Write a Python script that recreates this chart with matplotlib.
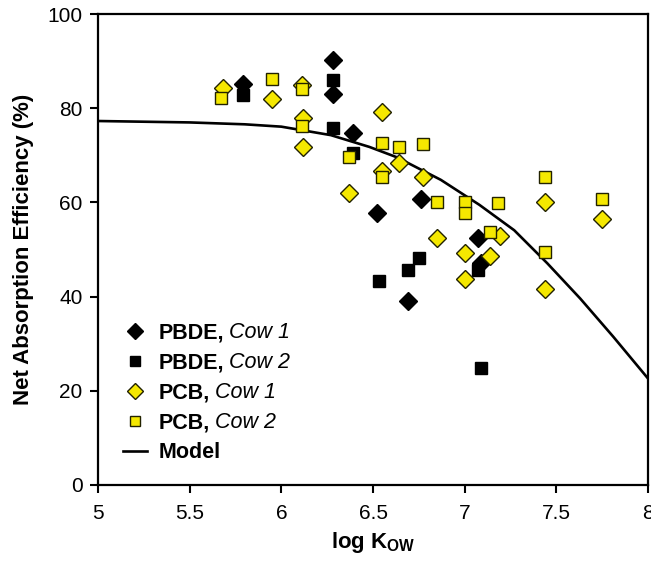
import matplotlib
matplotlib.use('Agg')
import matplotlib.pyplot as plt

plt.rcParams['font.family'] = ['Liberation Sans', 'DejaVu Sans']
plt.rcParams['mathtext.fontset'] = 'custom'
plt.rcParams['mathtext.rm'] = 'Liberation Sans'
plt.rcParams['mathtext.it'] = 'Liberation Sans:italic'
plt.rcParams['mathtext.bf'] = 'Liberation Sans:bold'

# PBDE, cow 1 (black diamonds)
pbde1_x = [5.79, 6.28, 6.28, 6.39, 6.52, 6.76, 6.69, 7.07, 7.09]
pbde1_y = [85.1, 90.2, 83.0, 74.8, 57.8, 60.8, 39.0, 52.5, 47.1]
# PBDE, cow 2 (black squares)
pbde2_x = [5.79, 6.28, 6.28, 6.39, 6.53, 6.69, 6.75, 7.07, 7.09]
pbde2_y = [82.8, 86.0, 75.8, 70.5, 43.4, 45.6, 48.2, 45.6, 24.8]
# PCB, cow 1 (yellow diamonds)
pcb1_x = [5.68, 5.95, 6.11, 6.12, 6.12, 6.37, 6.55, 6.55, 6.64, 6.77,
          6.85, 7.0, 7.0, 7.19, 7.14, 7.44, 7.44, 7.75]
pcb1_y = [84.3, 82.0, 85.0, 78.0, 71.8, 62.0, 79.2, 66.7, 68.4, 65.4,
          52.4, 49.3, 43.7, 52.9, 48.6, 60.1, 41.6, 56.5]
# PCB, cow 2 (yellow squares)
pcb2_x = [5.67, 5.95, 6.11, 6.11, 6.37, 6.55, 6.64, 6.77, 6.55, 6.85,
          7.0, 7.0, 7.18, 7.14, 7.44, 7.44, 7.75]
pcb2_y = [82.1, 86.2, 84.0, 76.2, 69.6, 72.6, 71.8, 72.4, 65.4, 60.1,
          60.1, 57.7, 59.9, 53.7, 65.4, 49.5, 60.7]
# model curve
model_x = [5.0, 5.5, 5.8, 6.0, 6.27, 6.48, 6.63, 6.87, 7.08, 7.27, 7.45, 7.63, 7.81, 8.0]
model_y = [77.3, 77.0, 76.6, 76.1, 74.3, 71.8, 69.6, 64.8, 59.5, 54.1, 47.1, 39.6, 31.5, 22.6]

legend_bold = ['PBDE,', 'PBDE,', 'PCB,', 'PCB,', 'Model']
legend_cow = ['Cow 1', 'Cow 2', 'Cow 1', 'Cow 2']

yellow = '#F5E800'
fs = 15.5

fig = plt.figure(figsize=(6.51, 5.65), dpi=100)
ax = fig.add_axes([0.1505, 0.1416, 0.845, 0.8334])

ln, = ax.plot(model_x, model_y, color='black', lw=1.9, zorder=2)
p1, = ax.plot(pbde1_x, pbde1_y, 'D', ms=9, color='black', ls='none', zorder=3)
p2, = ax.plot(pbde2_x, pbde2_y, 's', ms=8, color='black', ls='none', zorder=3)
p3, = ax.plot(pcb1_x, pcb1_y, 'D', ms=9.5, color=yellow, mec='#222200', mew=1.0,
              ls='none', zorder=4)
p4, = ax.plot(pcb2_x, pcb2_y, 's', ms=9, color=yellow, mec='#222200', mew=1.0,
              ls='none', zorder=4)

ax.set_xlim(5, 8)
ax.set_ylim(0, 100)
ax.set_xticks([5, 5.5, 6, 6.5, 7, 7.5, 8])
ax.set_xticklabels(['5', '5.5', '6', '6.5', '7', '7.5', '8'])
ax.set_yticks([0, 20, 40, 60, 80, 100])
ax.tick_params(direction='out', length=6, width=1.5, labelsize=15, colors='black')
ax.tick_params(axis='x', pad=8)
ax.tick_params(axis='y', pad=5)
for s in ax.spines.values():
    s.set_linewidth(1.6)

ax.set_xlabel(r'log K$_{\mathbf{OW}}$', fontsize=16, fontweight='bold', labelpad=5)
ax.set_ylabel('Net Absorption Efficiency (%)', fontsize=16, fontweight='bold', labelpad=10)

leg = ax.legend([p1, p2, p3, p4, ln], legend_bold, loc='lower left',
                bbox_to_anchor=(0.01, 0.005), frameon=False,
                prop={'weight': 'bold', 'size': fs},
                handlelength=1.1, handletextpad=0.55, labelspacing=0.42,
                markerscale=0.85)
fig.canvas.draw()
for t, cow in zip(leg.get_texts()[:4], legend_cow):
    ax.annotate(cow, xy=(1, 0), xycoords=t, xytext=(4, 0), textcoords='offset points',
                fontsize=fs, style='italic', va='bottom', ha='left')

fig.savefig('out.png', dpi=100)
